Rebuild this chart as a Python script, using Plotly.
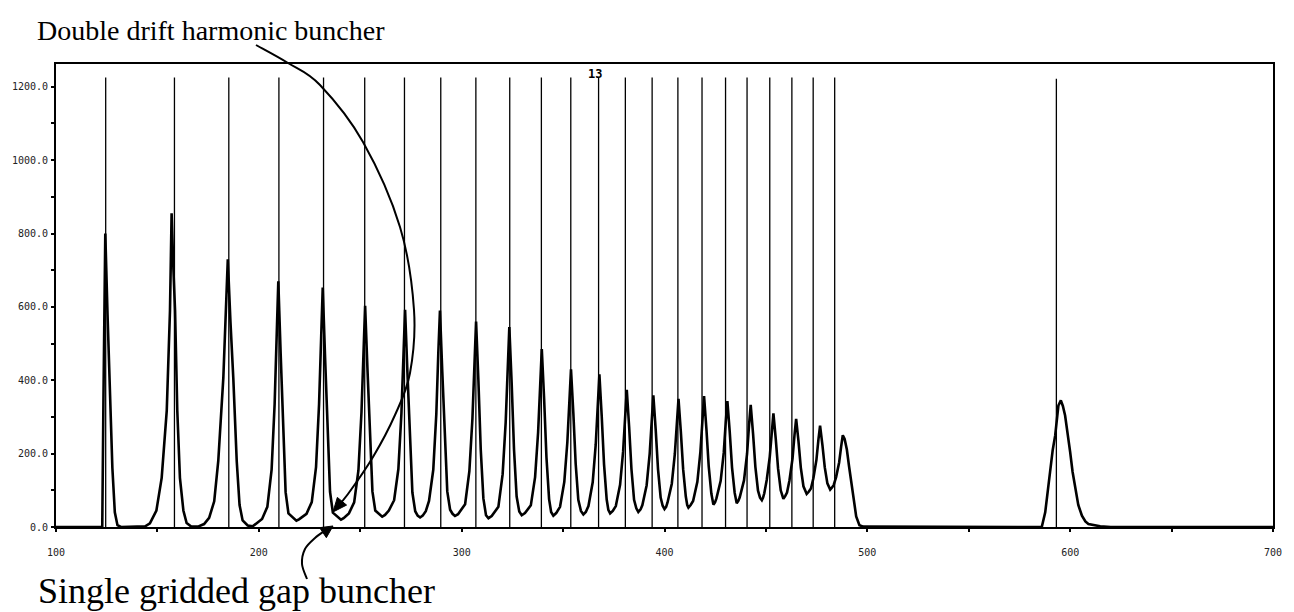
import plotly.graph_objects as go

# ---------------- data ----------------
# thin vertical spikes (bunch positions)
spike_x = [124.5, 158.4, 185.2, 209.9, 231.9, 252.2, 271.8, 289.7, 307.0, 323.7,
           339.3, 353.8, 367.5, 380.7, 393.9, 406.6, 418.5, 430.1, 440.7, 451.9,
           462.8, 473.3, 483.9, 593.2]
spike_h = [1225, 1225, 1225, 1225, 1225, 1225, 1225, 1225, 1225, 1225,
           1225, 1225, 1225, 1225, 1225, 1225, 1225, 1225, 1225, 1225,
           1225, 1225, 1225, 1222]

# bunched-beam current profile
curve_x = [
    100, 122.8, 123.4, 123.9, 124.3, 125.4, 126.6, 127.8, 129.0, 130.3, 132,
    140, 144, 146.3, 149.5, 152.1, 154.6, 156.2, 157.0, 157.9, 158.7, 159.8, 161.1, 162.8, 164.4, 166.5,
    170, 173, 175.5, 178, 180, 182.5, 184.0, 184.7, 186.0, 187.4, 189.1, 190.5, 192, 194.5,
    197,
    201.6, 204.2, 206.3, 207.8, 208.8, 209.6, 210.75, 211.9, 213.2, 214.6, 217.3, 218.5, 219.8,
    223.5, 226.1, 228.2, 229.7, 230.7, 231.5, 232.65, 233.8, 235.1, 236.5, 239.2, 240.5, 241.8,
    244.4, 247.0, 249.1, 250.6, 251.6, 252.4, 253.55, 254.7, 256.0, 257.4, 259.5, 260.8, 262.2,
    264.1, 266.7, 268.8, 270.3, 271.3, 272.1, 273.25, 274.4, 275.7, 277.1, 278.3, 279.5, 280.8,
    282.3, 283.9, 286.0, 287.5, 288.5, 289.3, 290.45, 291.6, 292.9, 294.3, 295.5, 296.7, 298.2,
    301.7, 303.8, 305.3, 306.3, 307.1, 308.25, 309.4, 310.7, 312.0, 313.2, 314.8,
    318.1, 320.2, 321.7, 322.7, 323.5, 324.65, 325.8, 327.1, 328.4, 329.6, 331.2,
    334.1, 336.2, 337.7, 338.7, 339.5, 340.65, 341.8, 343.1, 344.1, 345.2, 346.6,
    348.5, 350.6, 352.1, 353.1, 353.9, 355.05, 356.2, 357.5, 358.8, 360.0, 361.2,
    362.5, 364.6, 366.1, 367.1, 367.9, 369.05, 370.2, 371.5, 372.3, 373.2, 374.5,
    376.0, 378.1, 379.6, 380.6, 381.4, 382.55, 383.7, 385.0, 386.1, 387.1, 388.2,
    389.1, 391.2, 392.7, 393.7, 394.5, 395.65, 396.8, 398.1, 399.1, 400.0, 400.8,
    401.5, 403.6, 405.1, 406.1, 406.9, 408.05, 409.2, 410.5, 411.2, 411.8, 412.9,
    414.1, 416.2, 417.7, 418.7, 419.5, 420.65, 421.8, 423.1, 423.7, 424.1, 424.9,
    425.6, 427.7, 429.2, 430.2, 431.0, 432.15, 433.3, 434.6, 435.1, 435.6, 436.4,
    437.1, 439.2, 440.7, 441.7, 442.5, 443.65, 444.8, 446.1, 447.1, 448.0, 448.6,
    449.2, 450.4, 451.9, 452.9, 453.7, 454.85, 456.0, 457.3, 458.0, 458.6, 459.5,
    460.4, 461.6, 463.1, 464.1, 464.9, 466.05, 467.2, 468.5, 469.4, 470.1, 471.1,
    472.2, 473.4, 474.9, 475.9, 476.7, 477.85, 479.0, 480.3, 481.0, 481.7, 482.5,
    483.4, 484.6, 486.1, 487.1, 487.9, 488.8, 489.9, 491.0, 492.3, 493.4, 494.5, 496.1, 498,
    586.0, 587.7, 589.0, 590.1, 591.4, 592.6, 594.2, 595.4, 596.4, 597.5, 598.8, 600.0,
    601.2, 602.5, 604.0, 605.8, 607.5, 609.0, 614.8, 620, 700,
]
curve_y = [
    0, 0, 350, 650, 800, 580, 360, 160, 40, 5, 0,
    0, 2, 10, 45, 134, 317, 590, 855, 700, 590, 317, 134, 45, 11, 2,
    1, 8, 25, 70, 180, 407, 620, 730, 560, 407, 180, 60, 18, 4,
    2,
    22, 55, 156, 336, 536, 670, 474, 265, 95, 37, 22, 17, 21,
    36, 68, 163, 335, 526, 653, 463, 261, 96, 39, 25, 20, 24,
    37, 67, 154, 312, 486, 603, 431, 247, 97, 45, 33, 28, 33,
    45, 73, 158, 310, 479, 592, 422, 241, 94, 43, 31, 26, 31,
    43, 71, 156, 308, 477, 590, 422, 243, 97, 47, 36, 30, 35,
    62, 152, 295, 454, 560, 399, 212, 78, 32, 24, 30,
    55, 144, 285, 441, 545, 391, 212, 83, 42, 32, 38,
    59, 136, 259, 394, 485, 349, 190, 76, 41, 31, 38,
    55, 123, 231, 350, 430, 311, 173, 74, 44, 34, 41,
    57, 122, 225, 340, 416, 302, 170, 75, 47, 37, 44,
    57, 115, 206, 307, 374, 274, 158, 74, 51, 41, 48,
    60, 114, 200, 295, 359, 266, 158, 80, 58, 49, 55,
    67, 118, 199, 289, 349, 260, 157, 83, 60, 53, 60,
    71, 123, 205, 296, 357, 268, 165, 91, 68, 61, 67,
    78, 126, 202, 287, 343, 260, 162, 93, 72, 65, 71,
    81, 127, 199, 279, 333, 255, 164, 99, 80, 73, 80,
    92, 128, 192, 263, 310, 240, 159, 100, 83, 77, 84,
    94, 127, 186, 251, 295, 234, 162, 111, 96, 90, 96,
    105, 133, 183, 239, 276, 224, 163, 119, 108, 102, 107,
    114, 136, 176, 220, 250, 240, 211, 165, 111, 62, 29, 5, 1,
    0, 40, 100, 158, 210, 249, 331, 345, 330, 304, 255, 204,
    150, 104, 60, 31, 15, 8, 2, 0, 0,
]

x_ticks = [100, 150, 200, 250, 300, 350, 400, 450, 500, 550, 600, 650, 700]
x_labels = ["100", "", "200", "", "300", "", "400", "", "500", "", "600", "", "700"]
y_ticks = [0, 100, 200, 300, 400, 500, 600, 700, 800, 900, 1000, 1100, 1200]
y_labels = ["0.0", "", "200.0", "", "400.0", "", "600.0", "", "800.0", "", "1000.0", "", "1200.0"]

top_label = "Double drift harmonic buncher"
bottom_label = "Single gridded gap buncher"

# ---------------- layout geometry (pixels) ----------------
W, H = 1294, 612
L, R, T, B = 56, 1273, 64, 527


def pp(px, py):
    return ((px - L) / (R - L), (B - py) / (B - T))


def smooth_path(points):
    pts = [pp(*p) for p in points]
    d = "M %.5f,%.5f" % pts[0]
    n = len(pts)
    for i in range(n - 1):
        p0 = pts[i - 1] if i > 0 else pts[i]
        p1 = pts[i]
        p2 = pts[i + 1]
        p3 = pts[i + 2] if i + 2 < n else pts[i + 1]
        c1 = (p1[0] + (p2[0] - p0[0]) / 6, p1[1] + (p2[1] - p0[1]) / 6)
        c2 = (p2[0] - (p3[0] - p1[0]) / 6, p2[1] - (p3[1] - p1[1]) / 6)
        d += " C %.5f,%.5f %.5f,%.5f %.5f,%.5f" % (c1 + c2 + p2)
    return d


def head_path(tip, frm, length=14, half=6):
    dx, dy = tip[0] - frm[0], tip[1] - frm[1]
    m = (dx * dx + dy * dy) ** 0.5
    ux, uy = dx / m, dy / m
    bx, by = tip[0] - ux * length, tip[1] - uy * length
    a = (bx - uy * half, by + ux * half)
    b = (bx + uy * half, by - ux * half)
    p = [pp(*tip), pp(*a), pp(*b)]
    return "M %.5f,%.5f L %.5f,%.5f L %.5f,%.5f Z" % (p[0] + p[1] + p[2])


# ---------------- traces ----------------
sx, sy = [], []
for xv, hv in zip(spike_x, spike_h):
    sx += [xv, xv, None]
    sy += [0, hv, None]

fig = go.Figure()
fig.add_trace(go.Scatter(x=sx, y=sy, mode="lines",
                         line=dict(color="black", width=1.3), hoverinfo="skip"))
fig.add_trace(go.Scatter(x=curve_x, y=curve_y, mode="lines",
                         line=dict(color="black", width=2.6)))

# ---------------- arrows ----------------
top_pts = [(256, 45), (288, 63), (320, 85), (363, 142), (400, 227), (414, 310),
           (410, 373), (395, 415), (373, 457), (348, 494), (336, 508)]
bot_pts = [(307, 579), (302, 564), (305, 549), (315, 538), (326, 530)]

shapes = [
    dict(type="path", xref="paper", yref="paper", path=smooth_path(top_pts),
         line=dict(color="black", width=2)),
    dict(type="path", xref="paper", yref="paper", path=head_path((333, 512), (348, 494)),
         line=dict(color="black", width=1), fillcolor="black"),
    dict(type="path", xref="paper", yref="paper", path=smooth_path(bot_pts),
         line=dict(color="black", width=2)),
    dict(type="path", xref="paper", yref="paper", path=head_path((333, 526), (315, 538), 12, 6),
         line=dict(color="black", width=1), fillcolor="black"),
]

tx, ty = pp(35, 31)
bx, by = pp(36, 591)
annotations = [
    dict(text=top_label, x=tx, y=ty, xref="paper", yref="paper", showarrow=False,
         xanchor="left", yanchor="middle",
         font=dict(family="Liberation Serif", size=28, color="black")),
    dict(text=bottom_label, x=bx, y=by, xref="paper", yref="paper", showarrow=False,
         xanchor="left", yanchor="middle",
         font=dict(family="Liberation Serif", size=36, color="black")),
    dict(text="<b>13</b>", x=365.8, y=1234, xref="x", yref="y", showarrow=False,
         xanchor="center", yanchor="middle",
         font=dict(family="DejaVu Sans Mono", size=12, color="black")),
]

fig.update_layout(
    width=W, height=H,
    margin=dict(l=L, r=W - R, t=T, b=H - B, pad=0),
    paper_bgcolor="white", plot_bgcolor="white",
    showlegend=False,
    shapes=shapes,
    annotations=annotations,
)
fig.update_xaxes(range=[100, 700], showgrid=False, zeroline=False,
                 showline=True, linecolor="black", linewidth=2, mirror=True,
                 tickmode="array", tickvals=x_ticks, ticktext=x_labels,
                 ticks="outside", ticklen=3, tickwidth=1.5, tickcolor="black",
                 ticklabelstandoff=12,
                 tickfont=dict(family="DejaVu Sans Mono", size=10, color="#222"))
fig.update_yaxes(range=[0, 1262], showgrid=False, zeroline=False,
                 showline=True, linecolor="black", linewidth=2, mirror=True,
                 tickmode="array", tickvals=y_ticks, ticktext=y_labels,
                 ticks="outside", ticklen=3, tickwidth=2, tickcolor="black",
                 ticklabelstandoff=1,
                 tickfont=dict(family="DejaVu Sans Mono", size=10, color="#222"))

fig.write_html("out.html",
               config={"displayModeBar": False},
               post_script="document.body.style.margin='0px';"
                           "document.body.style.overflow='hidden';")
